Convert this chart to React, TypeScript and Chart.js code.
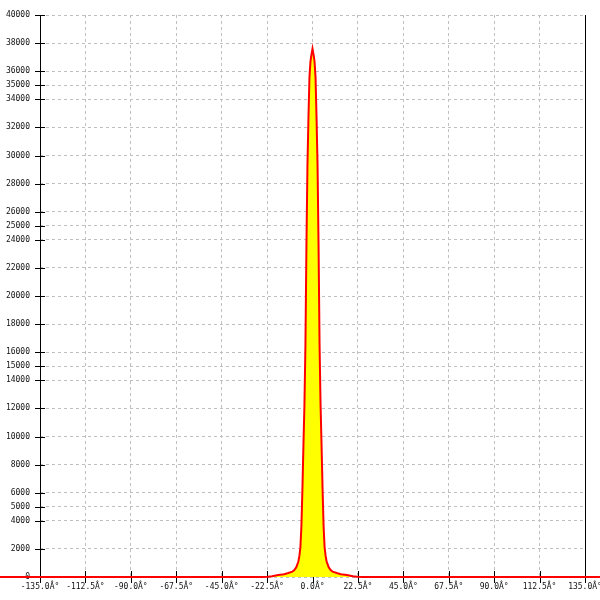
import React, { useEffect, useRef } from "react";
import { Chart, registerables } from "chart.js";

Chart.register(...registerables);

// Angle (degrees) of each sample
const angles = [
  -180, -25, -22, -20, -17, -14, -12, -10, -9, -8, -7, -6.5, -6, -5.5, -5, -4.5, -4, -3.5, -3, -2.5, -2, -1.5, -1, -0.5,
  0,
  0.5, 1, 1.5, 2, 2.5, 3, 3.5, 4, 4.5, 5, 5.5, 6, 6.5, 7, 8, 9, 10, 12, 14, 17, 20, 22, 25, 180,
];
// Counts at each angle
const counts = [
  0, 0, 20, 60, 140, 200, 280, 380, 500, 700, 1100, 1500, 2100, 3600, 6200, 9300, 12200, 16500, 23600, 29300, 32700, 35600, 36700, 37200,
  37600,
  37200, 36700, 35600, 32700, 29300, 23600, 16500, 12200, 9300, 6200, 3600, 2100, 1500, 1100, 700, 500, 380, 280, 200, 140, 60, 20, 0, 0,
];

const yTickValues = [
  0, 2000, 4000, 5000, 6000, 8000, 10000, 12000, 14000, 15000, 16000, 18000, 20000,
  22000, 24000, 25000, 26000, 28000, 30000, 32000, 34000, 35000, 36000, 38000, 40000,
];
const xTickValues = [-135, -112.5, -90, -67.5, -45, -22.5, 0, 22.5, 45, 67.5, 90, 112.5, 135];

const FONT = { family: "'DejaVu Sans Mono', monospace", size: 8 };

export default function App() {
  const ref = useRef<HTMLCanvasElement | null>(null);

  useEffect(() => {
    document.body.style.margin = "0";
    const canvas = ref.current;
    if (!canvas) return;

    const tickPlugin = {
      id: "tickMarks",
      beforeDatasetsDraw(chart: any) {
        const { ctx, chartArea, scales } = chart;
        ctx.save();
        ctx.strokeStyle = "#000";
        ctx.lineWidth = 1;
        ctx.setLineDash([]);
        ctx.beginPath();
        for (const v of yTickValues) {
          const y = Math.round(scales.y.getPixelForValue(v)) + 0.5;
          ctx.moveTo(chartArea.left - 5, y);
          ctx.lineTo(chartArea.left + 5, y);
        }
        for (const v of xTickValues) {
          const x = Math.round(scales.x.getPixelForValue(v)) + 0.5;
          ctx.moveTo(x, chartArea.bottom - 6);
          ctx.lineTo(x, chartArea.bottom + 6);
        }
        const lx = Math.round(chartArea.left) + 0.5;
        ctx.moveTo(lx, chartArea.top);
        ctx.lineTo(lx, chartArea.bottom + 6);
        const rx = Math.round(chartArea.right) + 0.5;
        ctx.moveTo(rx, chartArea.top);
        ctx.lineTo(rx, chartArea.bottom);
        ctx.stroke();
        ctx.restore();
      },
    };

    const chart = new Chart(canvas, {
      type: "line",
      data: {
        datasets: [
          {
            data: angles.map((a, i) => ({ x: a, y: counts[i] })),
            borderColor: "#ff0000",
            borderWidth: 2,
            backgroundColor: "#ffff00",
            fill: "origin",
            pointRadius: 0,
            tension: 0,
            clip: false as any,
          },
        ],
      },
      options: {
        animation: false,
        responsive: false,
        maintainAspectRatio: false,
        layout: { padding: { top: 15, right: 15, left: 0, bottom: 0 } },
        plugins: { legend: { display: false }, tooltip: { enabled: false } },
        scales: {
          x: {
            type: "linear",
            min: -135,
            max: 135,
            afterBuildTicks: (scale: any) => {
              scale.ticks = xTickValues.map((v) => ({ value: v }));
            },
            afterFit: (scale: any) => {
              scale.height = 23;
              scale.paddingLeft = 0;
              scale.paddingRight = 0;
            },
            ticks: {
              autoSkip: false,
              maxRotation: 0,
              padding: 0,
              color: "#111",
              font: FONT,
              callback: (v: any) => `${Number(v).toFixed(1)}Â°`,
            },
            grid: {
              color: "#c0c0c0",
              lineWidth: 1,
              tickLength: 5,
              tickColor: "rgba(0,0,0,0)",
            },
            border: { display: false, dash: [3, 3] },
          },
          y: {
            type: "linear",
            min: 0,
            max: 40000,
            afterBuildTicks: (scale: any) => {
              scale.ticks = yTickValues.map((v) => ({ value: v }));
            },
            afterFit: (scale: any) => {
              scale.width = 40;
              scale.paddingTop = 0;
              scale.paddingBottom = 0;
            },
            ticks: {
              autoSkip: false,
              padding: 5,
              color: "#111",
              font: FONT,
              callback: (v: any) => String(v),
            },
            grid: {
              color: "#c0c0c0",
              lineWidth: 1,
              tickLength: 5,
              tickColor: "rgba(0,0,0,0)",
            },
            border: { display: false, dash: [3, 3] },
          },
        },
      } as any,
      plugins: [tickPlugin],
    });

    return () => chart.destroy();
  }, []);

  return (
    <div style={{ width: 600, height: 600 }}>
      <canvas ref={ref} width={600} height={600} style={{ display: "block" }} />
    </div>
  );
}
